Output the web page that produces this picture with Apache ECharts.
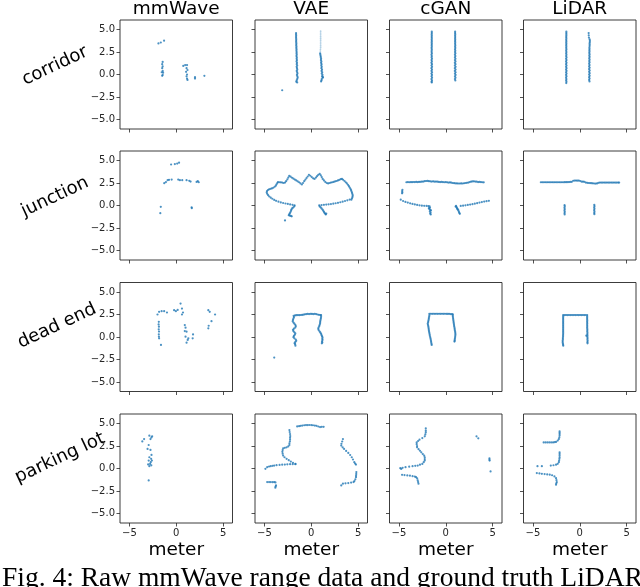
<!DOCTYPE html>
<html><head><meta charset="utf-8">
<script src="https://cdn.jsdelivr.net/npm/echarts@6/dist/echarts.min.js"></script>
<style>html,body{margin:0;padding:0;background:#fff;overflow:hidden}#c{width:640px;height:587px}</style>
</head><body><div id="c"></div>
<script>
const columns = ["mmWave", "VAE", "cGAN", "LiDAR"];
const rows = ["corridor", "junction", "dead end", "parking lot"];
const xTicks = [-5, 0, 5];
const yTicks = [-5, -2.5, 0, 2.5, 5];
const xLabel = "meter";
const caption = "Fig. 4: Raw mmWave range data and ground truth LiDAR";

// ---------- corridor ----------
const corridor_mmwave = [[-1.9,3.45],[-1.65,3.55],[-1.3,3.75],[-1.45,1.4],[-1.5,1.15],[-1.45,0.9],[-1.5,0.7],[-1.45,0.4],[-1.55,0.25],[-1.4,0.2],[-1.45,-0.05],[-1.5,-0.15],[0.75,0.95],[0.95,1.05],[1.15,1.05],[1.1,0.7],[1.2,0.5],[1.05,0.3],[1.15,0.0],[1.1,-0.2],[1.15,-0.45],[1.2,-0.6],[2.0,-0.3],[2.0,-0.45],[3.0,-0.15]];
const corridor_vae = [[-1.62,4.6],[-1.62,4.45],[-1.61,4.3],[-1.62,4.15],[-1.61,4.0],[-1.6,3.85],[-1.61,3.7],[-1.6,3.55],[-1.59,3.4],[-1.6,3.25],[-1.58,3.1],[-1.59,2.95],[-1.57,2.8],[-1.58,2.65],[-1.56,2.5],[-1.57,2.35],[-1.55,2.2],[-1.58,2.05],[-1.54,1.9],[-1.56,1.75],[-1.53,1.6],[-1.57,1.45],[-1.52,1.3],[-1.55,1.15],[-1.5,1.0],[-1.56,0.85],[-1.52,0.7],[-1.49,0.55],[-1.55,0.4],[-1.5,0.25],[-1.47,0.1],[-1.53,-0.05],[-1.48,-0.2],[-1.45,-0.35],[-1.5,-0.5],[-1.55,-0.65],[-1.6,-0.8],[-1.5,-0.88],
  [0.95,2.35],[0.97,2.2],[1.0,2.05],[1.02,1.9],[1.05,1.75],[1.03,1.6],[1.08,1.45],[1.05,1.3],[1.1,1.15],[1.07,1.0],[1.12,0.85],[1.08,0.7],[1.15,0.55],[1.1,0.4],[1.17,0.25],[1.12,0.1],[1.2,-0.05],[1.15,-0.2],[1.22,-0.35],[1.25,-0.3],[1.12,-0.5],[1.1,-0.65],[1.05,-0.77],
  [-3.1,-1.75]];
const corridor_vae_faint = [[1.0,4.8],[1.0,4.6],[1.0,4.4],[1.0,4.2],[1.0,4.0],[1.0,3.8],[1.0,3.6],[1.0,3.4],[1.0,3.2],[1.0,3.0],[0.98,2.8],[0.97,2.6]];
const corridor_cgan = [[-1.49,4.75],[-1.49,4.6],[-1.5,4.45],[-1.49,4.3],[-1.5,4.15],[-1.49,4.0],[-1.5,3.85],[-1.49,3.7],[-1.5,3.55],[-1.49,3.4],[-1.5,3.25],[-1.49,3.1],[-1.51,2.95],[-1.49,2.8],[-1.5,2.65],[-1.51,2.5],[-1.48,2.35],[-1.52,2.2],[-1.49,2.05],[-1.51,1.9],[-1.47,1.75],[-1.52,1.6],[-1.48,1.45],[-1.53,1.3],[-1.47,1.15],[-1.52,1.0],[-1.46,0.85],[-1.53,0.7],[-1.47,0.55],[-1.52,0.4],[-1.46,0.25],[-1.53,0.1],[-1.47,-0.05],[-1.52,-0.2],[-1.46,-0.35],[-1.53,-0.5],[-1.47,-0.65],[-1.51,-0.8],[-1.49,-0.88],
  [1.0,4.75],[1.0,4.6],[1.01,4.45],[1.0,4.3],[1.01,4.15],[1.0,4.0],[1.01,3.85],[1.0,3.7],[1.01,3.55],[1.0,3.4],[1.02,3.25],[1.0,3.1],[1.02,2.95],[0.99,2.8],[1.02,2.65],[0.99,2.5],[1.03,2.35],[0.98,2.2],[1.03,2.05],[0.98,1.9],[1.04,1.75],[0.98,1.6],[1.04,1.45],[0.97,1.3],[1.04,1.15],[0.97,1.0],[1.05,0.85],[0.97,0.7],[1.05,0.55],[0.97,0.4],[1.05,0.25],[0.98,0.1],[1.05,-0.05],[0.98,-0.2],[1.04,-0.35],[0.98,-0.5],[1.02,-0.66]];
const corridor_lidar = [[-1.43,4.75],[-1.43,4.6],[-1.43,4.45],[-1.43,4.3],[-1.44,4.15],[-1.43,4.0],[-1.44,3.85],[-1.43,3.7],[-1.44,3.55],[-1.43,3.4],[-1.44,3.25],[-1.43,3.1],[-1.44,2.95],[-1.42,2.8],[-1.45,2.65],[-1.42,2.5],[-1.45,2.35],[-1.42,2.2],[-1.45,2.05],[-1.41,1.9],[-1.46,1.75],[-1.41,1.6],[-1.46,1.45],[-1.41,1.3],[-1.46,1.15],[-1.41,1.0],[-1.46,0.85],[-1.41,0.7],[-1.46,0.55],[-1.41,0.4],[-1.46,0.25],[-1.41,0.1],[-1.46,-0.05],[-1.41,-0.2],[-1.46,-0.35],[-1.42,-0.5],[-1.45,-0.65],[-1.42,-0.8],[-1.44,-0.95],
  [0.95,4.6],[0.96,4.35],[0.98,4.1],[1.05,3.9],[1.08,3.75],[1.07,3.6],[1.05,3.45],[1.06,3.3],[1.05,3.15],[1.03,3.0],[1.04,2.85],[1.03,2.7],[1.04,2.55],[1.02,2.4],[1.05,2.25],[1.02,2.1],[1.05,1.95],[1.01,1.8],[1.05,1.65],[1.01,1.5],[1.05,1.35],[1.0,1.2],[1.05,1.05],[1.0,0.9],[1.06,0.75],[0.99,0.6],[1.06,0.45],[1.0,0.3],[1.06,0.15],[1.0,0.0],[1.06,-0.15],[1.0,-0.3],[1.05,-0.45],[1.0,-0.6],[1.04,-0.77]];

// ---------- junction ----------
const junction_mmwave = [[-0.55,4.55],[-0.15,4.6],[0.1,4.65],[0.3,4.75],[-1.28,2.48],[-1.1,2.6],[-0.92,2.81],[-0.77,2.85],[-0.49,2.88],[0.21,2.88],[0.39,2.81],[0.64,2.81],[1.1,2.81],[1.39,2.74],[1.53,2.66],[2.17,2.62],[2.3,2.7],[2.4,2.58],[-1.65,-0.15],[-1.7,-0.85],[1.64,-0.2],[1.66,-0.3]];
const junction_vae = [[-4.75,1.45],[-4.72,1.6],[-4.62,1.72],[-4.5,1.8],[-4.35,1.85],[-4.2,1.9],[-4.05,1.97],[-3.9,2.08],[-3.78,2.2],[-3.7,2.35],[-3.62,2.5],[-3.55,2.6],[-3.4,2.58],[-3.25,2.57],[-3.1,2.55],[-2.95,2.5],[-2.8,2.55],[-2.68,2.7],[-2.55,2.9],[-2.45,3.1],[-2.35,3.28],[-2.2,3.2],[-2.05,3.08],[-1.9,2.98],[-1.75,2.88],[-1.6,2.78],[-1.45,2.68],[-1.3,2.58],[-1.15,2.45],[-1.0,2.33],[-0.88,2.5],[-0.75,2.7],[-0.62,2.88],[-0.5,3.05],[-0.38,3.22],[-0.25,3.4],[-0.1,3.3],[0.05,3.15],[0.2,3.02],[0.35,2.95],[0.5,3.1],[0.62,3.25],[0.75,3.4],[0.9,3.5],[1.02,3.35],[1.12,3.15],[1.22,2.95],[1.35,2.78],[1.5,2.62],[1.65,2.5],[1.8,2.45],[1.95,2.5],[2.1,2.55],[2.25,2.58],[2.4,2.62],[2.55,2.68],[2.7,2.72],[2.85,2.78],[3.0,2.85],[3.15,2.92],[3.28,2.95],[3.4,2.85],[3.55,2.72],[3.68,2.58],[3.8,2.45],[3.92,2.3],[4.02,2.15],[4.1,2.0],[4.18,1.85],[4.25,1.7],[4.3,1.55],[4.35,1.4],[4.4,1.25],[4.42,1.1],[4.4,0.95],[4.35,0.8],[4.28,0.65],
  [-4.7,1.3],[-4.6,1.15],[-4.48,1.0],[-4.32,0.87],[-4.15,0.75],[-3.95,0.62],[-3.75,0.52],[-3.5,0.42],[-3.25,0.34],[-3.0,0.28],[-2.75,0.22],[-2.5,0.17],[-2.25,0.12],[-2.0,0.07],[-1.78,0.03],
  [-1.8,-0.08],[-1.9,-0.2],[-2.02,-0.3],[-2.1,-0.42],[-2.15,-0.55],[-2.2,-0.7],[-2.28,-0.85],[-2.35,-0.98],[-2.4,-1.08],[-2.3,-1.12],[-2.18,-1.16],[-2.08,-1.2],[-2.8,-1.66],
  [0.85,0.02],[1.1,0.05],[1.35,0.08],[1.6,0.1],[1.85,0.13],[2.1,0.16],[2.35,0.2],[2.6,0.25],[2.85,0.3],[3.1,0.36],[3.35,0.42],[3.6,0.5],[3.85,0.58],[4.1,0.66],
  [0.9,-0.1],[1.0,-0.2],[1.1,-0.32],[1.2,-0.45],[1.28,-0.58],[1.35,-0.7],[1.42,-0.82],[1.5,-0.92],[1.55,-1.0],[1.6,-0.9]];
const junction_cgan = [[-4.2,2.58],[-4.05,2.6],[-3.9,2.58],[-3.75,2.6],[-3.6,2.59],[-3.45,2.61],[-3.3,2.6],[-3.15,2.62],[-3.0,2.6],[-2.85,2.62],[-2.7,2.63],[-2.55,2.64],[-2.4,2.66],[-2.25,2.7],[-2.1,2.72],[-1.95,2.73],[-1.8,2.7],[-1.65,2.68],[-1.5,2.66],[-1.35,2.68],[-1.2,2.65],[-1.05,2.66],[-0.9,2.64],[-0.75,2.62],[-0.6,2.6],[-0.45,2.62],[-0.3,2.6],[-0.15,2.58],[0.0,2.6],[0.15,2.57],[0.3,2.55],[0.45,2.56],[0.6,2.53],[0.75,2.5],[0.9,2.48],[1.05,2.46],[1.2,2.45],[1.35,2.44],[1.5,2.44],[1.65,2.45],[1.8,2.44],[1.95,2.47],[2.1,2.5],[2.25,2.52],[2.4,2.55],[2.55,2.6],[2.7,2.64],[2.85,2.67],[3.0,2.68],[3.15,2.66],[3.3,2.64],[3.45,2.6],[3.6,2.62],[3.75,2.6],[3.9,2.58],[4.05,2.57],
  [-4.62,1.75],[-4.65,1.6],[-4.63,1.45],[-4.66,1.35],
  [-4.8,0.65],[-4.55,0.5],[-4.3,0.4],[-4.05,0.32],[-3.8,0.24],[-3.55,0.18],[-3.3,0.12],[-3.05,0.06],[-2.8,0.02],[-2.55,-0.02],[-2.3,-0.04],[-2.05,-0.05],[-1.85,-0.06],
  [-1.72,-0.1],[-1.68,-0.25],[-1.75,-0.4],[-1.65,-0.5],[-1.7,-0.65],[-1.62,-0.78],[-1.66,-0.9],[-1.6,-1.0],[-1.8,-0.3],[-1.58,-0.55],
  [1.1,-0.05],[1.15,-0.18],[1.2,-0.3],[1.28,-0.45],[1.35,-0.55],[1.4,-0.7],[1.45,-0.82],[1.5,-0.92],[1.05,-0.12],[1.25,-0.38],
  [1.6,-0.05],[1.85,-0.02],[2.1,0.02],[2.35,0.06],[2.6,0.1],[2.85,0.15],[3.1,0.2],[3.35,0.26],[3.6,0.32],[3.85,0.38],[4.1,0.44],[4.35,0.48],[4.6,0.52]];
const junction_lidar = [[-4.15,2.58],[-4.0,2.58],[-3.85,2.58],[-3.7,2.58],[-3.55,2.58],[-3.4,2.58],[-3.25,2.58],[-3.1,2.58],[-2.95,2.58],[-2.8,2.58],[-2.65,2.58],[-2.5,2.58],[-2.35,2.58],[-2.2,2.58],[-2.05,2.58],[-1.9,2.58],[-1.75,2.58],[-1.6,2.59],[-1.45,2.59],[-1.3,2.6],[-1.15,2.6],[-1.0,2.62],[-0.85,2.63],[-0.7,2.75],[-0.55,2.77],[-0.4,2.77],[-0.25,2.76],[-0.1,2.77],[0.05,2.72],[0.2,2.65],[0.35,2.65],[0.5,2.63],[0.65,2.55],[0.8,2.52],[0.95,2.5],[1.1,2.49],[1.25,2.48],[1.4,2.46],[1.55,2.44],[1.7,2.43],[1.85,2.45],[2.0,2.52],[2.15,2.54],[2.3,2.55],[2.45,2.55],[2.6,2.55],[2.75,2.55],[2.9,2.55],[3.05,2.55],[3.2,2.55],[3.35,2.55],[3.5,2.55],[3.65,2.55],[3.8,2.55],[3.95,2.55],[4.1,2.55],[4.2,2.55],
  [-1.62,0.04],[-1.6,-0.1],[-1.63,-0.25],[-1.6,-0.4],[-1.63,-0.55],[-1.6,-0.7],[-1.62,-0.85],[-1.61,-1.0],
  [1.55,0.07],[1.57,-0.08],[1.54,-0.22],[1.57,-0.37],[1.54,-0.52],[1.57,-0.67],[1.55,-0.82],[1.56,-0.96]];

// ---------- dead end ----------
const deadend_mmwave = [[-1.86,1.69],[-1.88,1.4],[-1.85,1.15],[-1.87,0.85],[-1.84,0.6],[-1.86,0.3],[-1.85,0.05],[-1.83,-0.15],[-1.63,-0.88],
  [-2.0,2.5],[-1.83,2.79],[-1.56,2.87],[-1.29,2.87],[-0.99,2.72],[-0.23,2.98],[-0.04,2.87],[0.15,3.01],[0.46,3.71],[0.61,3.16],[0.72,2.72],[0.61,2.5],
  [0.91,1.32],[0.99,1.03],[0.91,0.66],[1.1,0.59],[0.99,0.04],[1.22,-0.33],[1.1,-0.63],[1.29,-0.15],[1.79,0.29],[1.75,-0.15],
  [3.42,2.98],[3.57,2.79],[3.76,1.76],[3.46,1.25],[3.42,0.96],[4.14,2.5]];
const deadend_vae = [[-1.88,2.35],[-1.73,2.4],[-1.58,2.42],[-1.43,2.43],[-1.28,2.42],[-1.13,2.44],[-0.98,2.45],[-0.83,2.48],[-0.68,2.52],[-0.53,2.55],[-0.38,2.56],[-0.23,2.55],[-0.08,2.57],[0.07,2.56],[0.22,2.55],[0.37,2.57],[0.52,2.55],[0.67,2.5],[0.82,2.46],[0.97,2.43],[1.05,2.42],
  [-1.85,2.2],[-1.9,2.05],[-1.95,1.9],[-1.98,1.75],[-1.9,1.6],[-1.8,1.48],[-1.7,1.35],[-1.65,1.2],[-1.7,1.05],[-1.85,0.92],[-1.95,0.8],[-1.9,0.65],[-1.8,0.52],[-1.7,0.4],[-1.75,0.25],[-1.85,0.12],[-1.9,-0.02],[-1.8,-0.15],[-1.65,-0.28],[-1.6,-0.42],[-1.7,-0.55],[-1.78,-0.68],[-1.72,-0.8],[-1.69,-0.96],
  [1.05,2.25],[1.03,2.1],[1.0,1.95],[0.97,1.8],[0.95,1.65],[0.94,1.5],[0.9,1.35],[0.85,1.2],[0.78,1.05],[0.75,0.9],[0.8,0.75],[0.9,0.6],[0.98,0.48],[1.05,0.35],[1.1,0.2],[1.15,0.08],[1.2,-0.05],[1.18,-0.2],[1.2,-0.33],[1.15,-0.48],[1.18,-0.6],[1.13,-0.7],
  [-3.95,-2.28]];
const deadend_cgan = [[-1.75,2.57],[-1.6,2.58],[-1.45,2.57],[-1.3,2.58],[-1.15,2.57],[-1.0,2.58],[-0.85,2.57],[-0.7,2.58],[-0.55,2.57],[-0.4,2.58],[-0.25,2.57],[-0.1,2.58],[0.05,2.57],[0.2,2.56],[0.35,2.57],[0.5,2.55],[0.65,2.55],[0.75,2.52],
  [-1.75,2.4],[-1.77,2.25],[-1.8,2.1],[-1.82,1.95],[-1.85,1.8],[-1.88,1.65],[-1.92,1.5],[-1.9,1.35],[-1.86,1.2],[-1.84,1.05],[-1.82,0.9],[-1.8,0.75],[-1.78,0.6],[-1.75,0.45],[-1.72,0.3],[-1.7,0.15],[-1.66,0.0],[-1.63,-0.15],[-1.6,-0.3],[-1.57,-0.45],[-1.55,-0.6],[-1.52,-0.75],[-1.5,-0.88],
  [0.75,2.4],[0.76,2.25],[0.78,2.1],[0.8,1.95],[0.82,1.8],[0.84,1.65],[0.86,1.5],[0.88,1.35],[0.9,1.2],[0.93,1.05],[0.95,0.9],[0.97,0.75],[1.0,0.6],[1.02,0.45],[1.03,0.3],[1.02,0.15],[1.0,0.0],[0.98,-0.15],[0.96,-0.3],[0.95,-0.42],[0.93,-0.51]];
const deadend_lidar = [[-1.77,2.43],[-1.62,2.43],[-1.47,2.44],[-1.32,2.43],[-1.17,2.44],[-1.02,2.43],[-0.87,2.44],[-0.72,2.43],[-0.57,2.44],[-0.42,2.43],[-0.27,2.44],[-0.12,2.43],[0.03,2.44],[0.18,2.43],[0.33,2.44],[0.48,2.43],[0.63,2.44],[0.79,2.43],
  [-1.77,2.28],[-1.77,2.13],[-1.77,1.98],[-1.77,1.83],[-1.77,1.68],[-1.77,1.53],[-1.77,1.38],[-1.77,1.23],[-1.77,1.08],[-1.77,0.93],[-1.77,0.78],[-1.77,0.63],[-1.77,0.48],[-1.77,0.33],[-1.78,0.18],[-1.78,0.03],[-1.8,-0.12],[-1.8,-0.27],[-1.82,-0.42],[-1.82,-0.57],[-1.8,-0.72],[-1.78,-0.85],[-1.76,-0.96],
  [0.79,2.28],[0.79,2.13],[0.79,1.98],[0.8,1.83],[0.79,1.68],[0.8,1.53],[0.79,1.38],[0.8,1.23],[0.79,1.08],[0.8,0.93],[0.81,0.78],[0.8,0.63],[0.82,0.48],[0.81,0.33],[0.7,0.15],[0.82,0.18],[0.81,0.03],[0.83,-0.12],[0.82,-0.27],[0.84,-0.42],[0.82,-0.57],[0.83,-0.7]];

// ---------- parking lot ----------
const parking_mmwave = [[-3.62,3.01],[-3.43,3.27],[-2.87,3.64],[-2.57,3.57],[-2.65,3.45],[-2.75,3.27],[-2.94,2.61],[-3.06,2.17],[-2.75,2.06],[-2.64,1.51],[-2.87,1.25],[-2.68,1.07],[-2.94,0.88],[-2.79,0.51],[-3.0,0.45],[-2.87,0.26],[-2.72,0.7],[-2.6,0.88],[-2.66,0.35],[-2.94,-1.32]];
const parking_vae = [[-1.5,4.67],[-1.3,4.7],[-1.13,4.74],[-0.95,4.77],[-0.75,4.8],[-0.56,4.82],[-0.38,4.82],[-0.2,4.83],[0.0,4.82],[0.18,4.8],[0.38,4.77],[0.56,4.74],[0.75,4.66],[0.94,4.6],[1.12,4.63],[1.32,4.63],
  [-2.33,4.26],[-2.3,4.05],[-2.26,3.82],[-2.24,3.6],[-2.26,3.4],[-2.26,3.2],[-2.28,3.0],[-2.33,2.8],[-2.33,2.61],[-2.45,2.45],[-2.63,2.35],[-2.82,2.3],[-3.0,2.24],[-3.05,2.05],[-3.08,1.85],[-3.05,1.65],[-3.0,1.43],[-2.85,1.25],[-2.63,1.07],[-2.4,0.92],[-2.18,0.77],[-1.95,0.64],[-1.69,0.51],
  [-4.89,-0.04],[-4.7,0.15],[-4.5,0.22],[-4.32,0.26],[-4.12,0.3],[-3.95,0.33],[-3.7,0.37],[-3.38,0.4],[-3.1,0.42],[-2.82,0.44],[-2.55,0.46],[-2.26,0.48],[-1.98,0.48],[-1.69,0.48],
  [-4.7,-1.51],[-4.5,-1.51],[-4.32,-1.51],[-4.12,-1.52],[-3.95,-1.51],[-3.82,-1.55],[-3.76,-1.88],[-3.8,-2.0],[-3.83,-2.13],
  [3.38,3.27],[3.3,3.0],[3.22,2.75],[3.2,2.54],[3.35,2.35],[3.5,2.17],[3.72,1.95],[3.95,1.73],[4.15,1.5],[4.32,1.25],[4.45,1.0],[4.59,0.7],[4.68,0.55],[4.77,0.44],
  [4.81,-0.4],[4.8,-0.6],[4.78,-0.8],[4.77,-0.96],[4.7,-1.2],[4.6,-1.4],[4.51,-1.51],[4.25,-1.56],[3.95,-1.62],[3.65,-1.65],[3.38,-1.69],[3.2,-1.88]];
const parking_cgan = [[-2.13,4.45],[-2.13,4.2],[-2.13,4.0],[-2.18,3.78],[-2.24,3.57],[-2.5,3.38],[-2.8,3.2],[-2.95,3.05],[-3.1,2.9],[-3.1,2.7],[-3.06,2.5],[-3.06,2.35],[-2.9,2.15],[-2.75,1.97],[-2.61,1.8],[-2.45,1.6],[-2.3,1.42],[-2.24,1.25],[-2.24,1.05],[-2.24,0.88],[-2.35,0.7],[-2.5,0.51],[-2.75,0.42],[-2.99,0.33],[-3.25,0.3],[-3.54,0.26],[-3.9,0.2],[-4.29,0.15],[-4.6,0.08],[-4.85,0.04],[-4.75,-0.05],
  [-4.66,-0.7],[-4.4,-0.73],[-4.1,-0.77],[-3.82,-0.8],[-3.54,-0.85],[-3.3,-0.9],[-3.17,-0.96],[-3.05,-1.1],[-2.99,-1.32],[-2.95,-1.5],[-2.91,-1.69],
  [3.28,3.57],[3.47,3.35],[4.66,1.14],[4.66,0.98],[4.68,0.88],[4.78,-0.33]];
const parking_lidar = [[-3.85,2.9],[-3.65,2.9],[-3.45,2.9],[-3.25,2.9],[-3.05,2.9],[-2.85,2.9],[-2.68,2.92],[-2.53,2.95],[-2.35,3.1],[-2.23,3.27],[-2.18,3.45],[-2.15,3.65],[-2.15,3.82],[-2.15,3.97],[-2.15,4.12],
  [-2.15,1.8],[-2.15,1.62],[-2.15,1.43],[-2.15,1.25],[-2.17,1.07],[-2.2,0.88],[-2.23,0.7],[-2.35,0.52],[-2.53,0.42],[-2.8,0.36],[-3.09,0.33],[-4.04,0.26],[-4.51,0.26],
  [-4.58,-0.51],[-4.3,-0.55],[-4.04,-0.59],[-3.75,-0.62],[-3.47,-0.66],[-3.2,-0.68],[-2.95,-0.75],[-2.7,-0.88],[-2.53,-1.07],[-2.48,-1.3],[-2.45,-1.51],[-2.5,-1.65],[-2.53,-1.8]];

const panelData = [
  [corridor_mmwave, corridor_vae, corridor_cgan, corridor_lidar],
  [junction_mmwave, junction_vae, junction_cgan, junction_lidar],
  [deadend_mmwave, deadend_vae, deadend_cgan, deadend_lidar],
  [parking_mmwave, parking_vae, parking_cgan, parking_lidar]
];

const chart = echarts.init(document.getElementById('c'), null, {renderer: 'canvas'});
const lefts = [120, 255, 389.5, 523.5];
const tops = [20, 151, 282.5, 414];
const W = 112.5, H = 109;
const BLUE = '#1f77b4';
const fmt = (v, d) => (v < 0 ? '\u2212' : '') + Math.abs(v).toFixed(d);

const grid = [], xAxis = [], yAxis = [], series = [];
for (let r = 0; r < 4; r++) {
  for (let c = 0; c < 4; c++) {
    const i = r * 4 + c;
    grid.push({left: lefts[c], top: tops[r], width: W, height: H, show: true, borderColor: '#262626', borderWidth: 0.9, backgroundColor: '#fff'});
    xAxis.push({type: 'value', gridIndex: i, min: -6, max: 6,
      axisLine: {show: false, onZero: false}, splitLine: {show: false},
      axisTick: {show: true, length: 3.5, customValues: xTicks, lineStyle: {color: '#262626', width: 0.8}},
      axisLabel: {show: r === 3, customValues: xTicks, formatter: v => fmt(v, 0), fontSize: 10, color: '#262626', margin: 5, fontFamily: 'DejaVu Sans'}});
    yAxis.push({type: 'value', gridIndex: i, min: -6.05, max: 6.05,
      axisLine: {show: false, onZero: false}, splitLine: {show: false},
      axisTick: {show: true, length: 3.5, customValues: yTicks, lineStyle: {color: '#262626', width: 0.8}},
      axisLabel: {show: c === 0, customValues: yTicks, formatter: v => fmt(v, 1), fontSize: 10, color: '#262626', margin: 5, fontFamily: 'DejaVu Sans'}});
    series.push({type: 'scatter', xAxisIndex: i, yAxisIndex: i, data: panelData[r][c], symbolSize: 2.2, itemStyle: {color: BLUE}, silent: true});
  }
}
series.push({type: 'scatter', xAxisIndex: 1, yAxisIndex: 1, data: corridor_vae_faint, symbolSize: 1.8, itemStyle: {color: BLUE, opacity: 0.35}, silent: true});

const graphic = [];
const colCenters = lefts.map(l => l + W / 2);
columns.forEach((t, c) => graphic.push({type: 'text', x: colCenters[c], y: 9, style: {text: t, fontSize: 18.5, fontFamily: 'DejaVu Sans', fill: '#000', align: 'center', verticalAlign: 'middle'}}));
const rowCenters = [[55, 66], [55, 197], [57, 326], [60, 458]];
rows.forEach((t, r) => graphic.push({type: 'text', x: rowCenters[r][0], y: rowCenters[r][1], rotation: 25 * Math.PI / 180, style: {text: t, fontSize: 18, fontFamily: 'DejaVu Sans', fill: '#000', align: 'center', verticalAlign: 'middle'}}));
colCenters.forEach(x => graphic.push({type: 'text', x: x, y: 550, style: {text: xLabel, fontSize: 18.5, fontFamily: 'DejaVu Sans', fill: '#000', align: 'center', verticalAlign: 'middle'}}));
graphic.push({type: 'text', x: 2, y: 565, style: {text: caption, fontSize: 27.5, fontFamily: 'Liberation Serif', fill: '#000', align: 'left', verticalAlign: 'top'}});

chart.setOption({animation: false, grid, xAxis, yAxis, series, graphic});
</script></body></html>
